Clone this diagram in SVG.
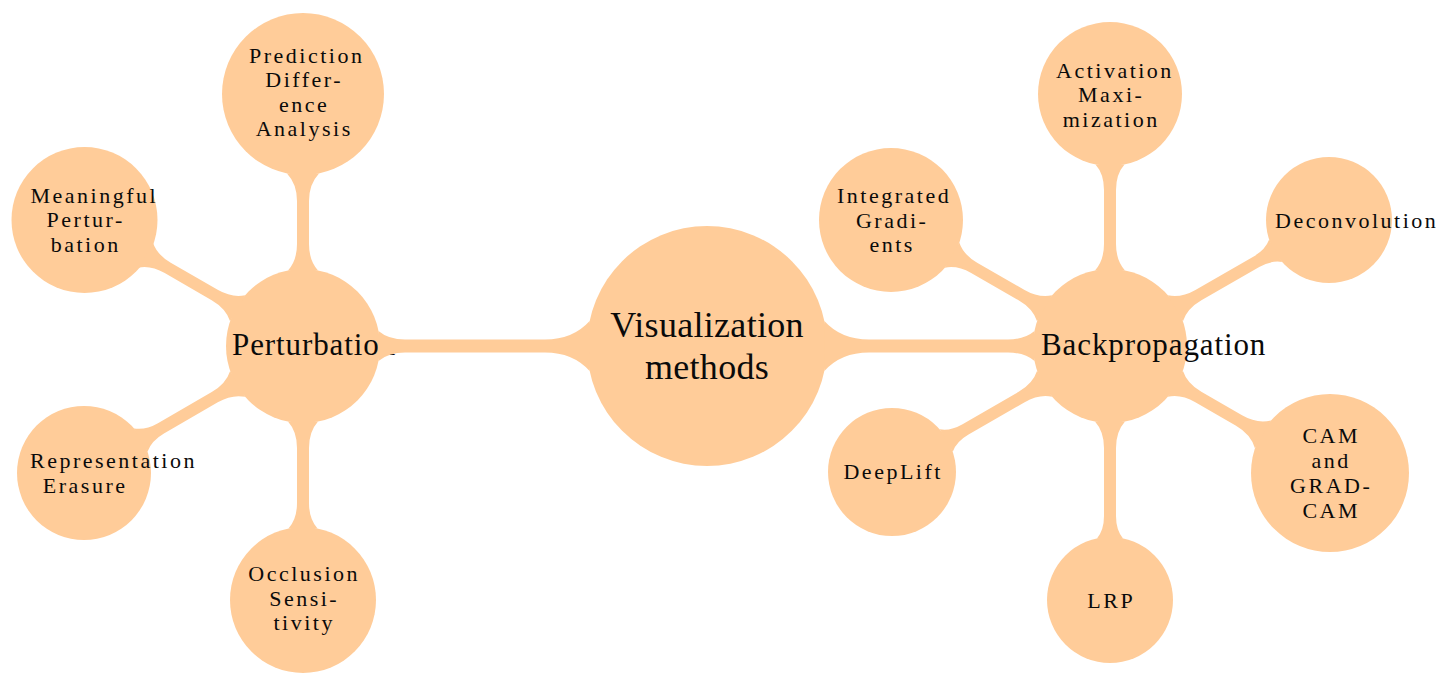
<svg xmlns="http://www.w3.org/2000/svg" width="1440" height="677" viewBox="0 0 1440 677">
<style>
.n{fill:#FFCC99}
.c{fill:#FFCC99}
text{font-family:"Liberation Serif","Times New Roman",serif;fill:#0a0a0a}
.t0{font-size:36px;letter-spacing:0.3px;text-anchor:middle}
.t1{font-size:31px;letter-spacing:0.9px;text-anchor:start}
.t2{font-size:22px;letter-spacing:2.5px;text-anchor:middle}
.ts{font-size:22px;letter-spacing:2.5px;text-anchor:start}
</style>
<rect width="1440" height="677" fill="#fff"/>
<g id="nodes">
<g id="node-center"><circle class="n" cx="707" cy="346" r="120"/><text class="t0" x="707" y="337">Visualization</text><text class="t0" x="707" y="379">methods</text></g>
<g id="node-perturbation"><circle class="n" cx="303" cy="346" r="77"/><text class="t1" x="232" y="355">Perturbation</text></g>
<g id="node-backpropagation"><circle class="n" cx="1110" cy="346" r="77"/><text class="t1" x="1041" y="355">Backpropagation</text></g>
<g id="node-pda"><circle class="n" cx="303" cy="94" r="81"/><text class="ts" x="249" y="62.5">Prediction</text><text class="t2" x="304.2" y="87">Differ-</text><text class="t2" x="304.2" y="111.5">ence</text><text class="t2" x="304.2" y="136">Analysis</text></g>
<g id="node-mp"><circle class="n" cx="84.5" cy="220" r="73"/><text class="ts" x="30.5" y="203">Meaningful</text><text class="t2" x="85.7" y="227">Pertur-</text><text class="t2" x="85.7" y="251.5">bation</text></g>
<g id="node-re"><circle class="n" cx="84" cy="473" r="67"/><text class="ts" x="30" y="468">Representation</text><text class="t2" x="85.2" y="493">Erasure</text></g>
<g id="node-os"><circle class="n" cx="303" cy="600" r="73"/><text class="t2" x="304.2" y="581">Occlusion</text><text class="t2" x="304.2" y="605.5">Sensi-</text><text class="t2" x="304.2" y="630">tivity</text></g>
<g id="node-am"><circle class="n" cx="1110" cy="94" r="72"/><text class="ts" x="1056" y="77.5">Activation</text><text class="t2" x="1111.2" y="102">Maxi-</text><text class="t2" x="1111.2" y="126.5">mization</text></g>
<g id="node-ig"><circle class="n" cx="891" cy="220" r="72"/><text class="ts" x="837" y="203">Integrated</text><text class="t2" x="892.2" y="227.5">Gradi-</text><text class="t2" x="892.2" y="252">ents</text></g>
<g id="node-dc"><circle class="n" cx="1329" cy="220" r="63"/><text class="ts" x="1275" y="228">Deconvolution</text></g>
<g id="node-dl"><circle class="n" cx="892" cy="472" r="64"/><text class="t2" x="893.2" y="479">DeepLift</text></g>
<g id="node-lrp"><circle class="n" cx="1110" cy="600" r="63"/><text class="t2" x="1111.2" y="607.5">LRP</text></g>
<g id="node-cam"><circle class="n" cx="1330" cy="473" r="79"/><text class="t2" x="1331.2" y="443">CAM</text><text class="t2" x="1331.2" y="468">and</text><text class="t2" x="1331.2" y="493">GRAD-</text><text class="t2" x="1331.2" y="517.5">CAM</text></g>
</g>
<g id="connectors">
<path class="c" transform="translate(707,346) rotate(180)" d="M117.4,-25 Q134,-6.5 162,-6.5 L302,-6.5 Q318.5,-6.5 328.5,-15 L328.5,15 Q318.5,6.5 302,6.5 L162,6.5 Q134,6.5 117.4,25 Z"/>
<path class="c" transform="translate(707,346)" d="M117.4,-25 Q134,-6.5 162,-6.5 L301,-6.5 Q317.5,-6.5 327.5,-15 L327.5,15 Q317.5,6.5 301,6.5 L162,6.5 Q134,6.5 117.4,25 Z"/>
<path class="c" transform="translate(303,346) rotate(-90)" d="M75.5,-15 Q85.5,-6 102,-6 L145,-6 Q162,-6 172.6,-16 L172.6,16 Q162,6 145,6 L102,6 Q85.5,6 75.5,15 Z"/>
<path class="c" transform="translate(303,346) rotate(-150)" d="M75.5,-15 Q85.5,-6 102,-6 L156.2,-6 Q172.2,-6 181.7,-14.5 L181.7,14.5 Q172.2,6 156.2,6 L102,6 Q85.5,6 75.5,15 Z"/>
<path class="c" transform="translate(303,346) rotate(149.9)" d="M75.5,-15 Q85.5,-6 102,-6 L164.2,-6 Q178.7,-6 187.6,-13.5 L187.6,13.5 Q178.7,6 164.2,6 L102,6 Q85.5,6 75.5,15 Z"/>
<path class="c" transform="translate(303,346) rotate(90)" d="M75.5,-15 Q85.5,-6 102,-6 L157,-6 Q173,-6 182.5,-14.5 L182.5,14.5 Q173,6 157,6 L102,6 Q85.5,6 75.5,15 Z"/>
<path class="c" transform="translate(1110,346) rotate(-90)" d="M75.5,-15 Q85.5,-6 102,-6 L156,-6 Q172,-6 181.5,-14.5 L181.5,14.5 Q172,6 156,6 L102,6 Q85.5,6 75.5,15 Z"/>
<path class="c" transform="translate(1110,346) rotate(-150.1)" d="M75.5,-15 Q85.5,-6 102,-6 L156.7,-6 Q172.7,-6 182.2,-14.5 L182.2,14.5 Q172.7,6 156.7,6 L102,6 Q85.5,6 75.5,15 Z"/>
<path class="c" transform="translate(1110,346) rotate(-29.9)" d="M75.5,-15 Q85.5,-6 102,-6 L168.7,-6 Q182.7,-6 191.1,-13 L191.1,13 Q182.7,6 168.7,6 L102,6 Q85.5,6 75.5,15 Z"/>
<path class="c" transform="translate(1110,346) rotate(150)" d="M75.5,-15 Q85.5,-6 102,-6 L166.8,-6 Q180.8,-6 189.1,-13 L189.1,13 Q180.8,6 166.8,6 L102,6 Q85.5,6 75.5,15 Z"/>
<path class="c" transform="translate(1110,346) rotate(90)" d="M75.5,-15 Q85.5,-6 102,-6 L170,-6 Q184,-6 192.4,-13 L192.4,13 Q184,6 170,6 L102,6 Q85.5,6 75.5,15 Z"/>
<path class="c" transform="translate(1110,346) rotate(30)" d="M75.5,-15 Q85.5,-6 102,-6 L149,-6 Q166,-6 176.6,-16 L176.6,16 Q166,6 149,6 L102,6 Q85.5,6 75.5,15 Z"/>
</g>
</svg>
